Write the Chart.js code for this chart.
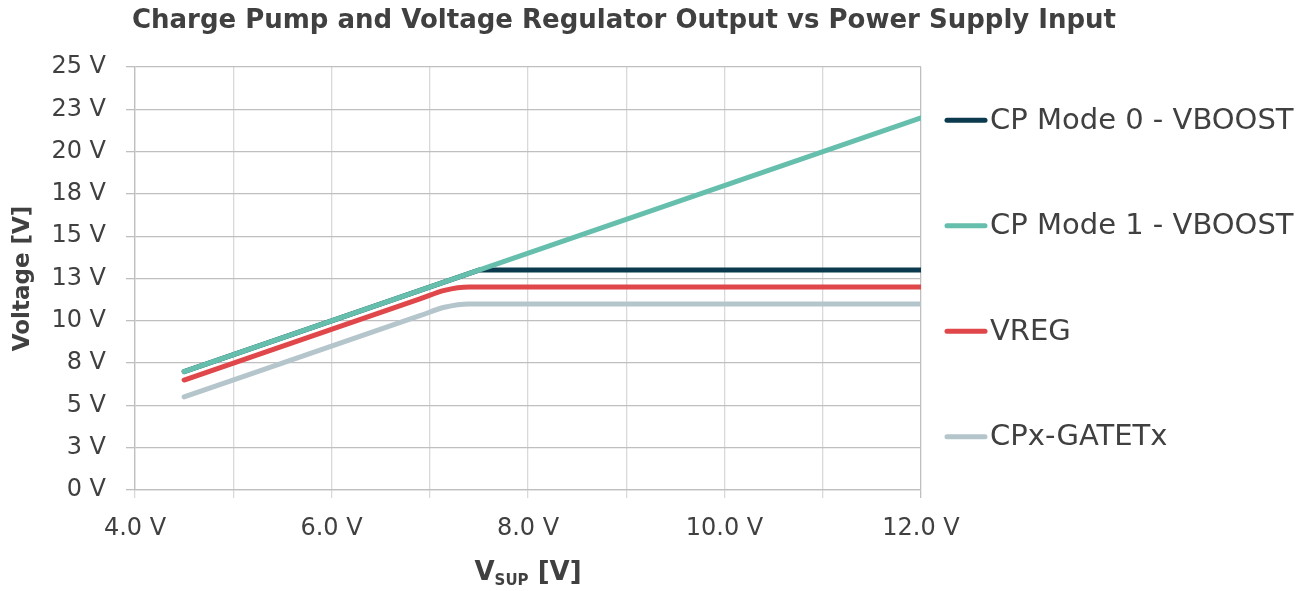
<!DOCTYPE html>
<html>
<head>
<meta charset="utf-8">
<title>Charge Pump and Voltage Regulator Output vs Power Supply Input</title>
<script src="https://cdn.jsdelivr.net/npm/chart.js@4"></script>
<style>
  html, body { margin: 0; padding: 0; background: #fff; }
  #wrap { width: 1307px; height: 591px; }
</style>
</head>
<body>
<div id="wrap"><canvas id="chart" width="1307" height="591"></canvas></div>
<script>
// --- data ---
const chartTitle = 'Charge Pump and Voltage Regulator Output vs Power Supply Input';
const seriesNames = ['CP Mode 0 - VBOOST', 'CP Mode 1 - VBOOST', 'VREG', 'CPx-GATETx'];
const seriesColors = ['#0b3a4e', '#66bfac', '#e0474a', '#b5c5cc'];

const mode0Vsup = [4.5, 7.5, 12.0];
const mode0Out = [7.0, 13.0, 13.0];
const mode1Vsup = [4.5, 12.0];
const mode1Out = [7.0, 22.0];
const vregVsup = [4.5, 6.9, 7.15, 7.4, 12.0];
const vregOut = [6.5, 11.3, 11.8, 12.0, 12.0];
const gateVsup = [4.5, 6.9, 7.15, 7.4, 12.0];
const gateOut = [5.5, 10.3, 10.8, 11.0, 11.0];

const yTickLabels = ['0 V', '3 V', '5 V', '8 V', '10 V', '13 V', '15 V', '18 V', '20 V', '23 V', '25 V'];
const xTickLabels = ['4.0 V', '', '6.0 V', '', '8.0 V', '', '10.0 V', '', '12.0 V'];

const textColor = '#404040';
const fontFamily = "'DejaVu Sans', sans-serif";

function toPoints(xs, ys) {
    return xs.map((x, i) => ({ x: x, y: ys[i] }));
}

function makeSet(idx, xs, ys, order, smooth) {
    return {
        label: seriesNames[idx],
        data: toPoints(xs, ys),
        borderColor: seriesColors[idx],
        backgroundColor: seriesColors[idx],
        borderWidth: 5,
        borderCapStyle: 'round',
        borderJoinStyle: 'round',
        pointRadius: 0,
        fill: false,
        order: order,
        cubicInterpolationMode: smooth ? 'monotone' : 'default',
        tension: 0
    };
}

// main title, centred like the original (a bit left of the page centre)
const topTitle = {
    id: 'topTitle',
    afterDraw(chart) {
        const ctx = chart.ctx;
        ctx.save();
        ctx.font = 'bold 26px ' + fontFamily;
        ctx.fillStyle = textColor;
        ctx.textAlign = 'center';
        ctx.textBaseline = 'middle';
        ctx.fillText(chartTitle, 624, 21);
        ctx.restore();
    }
};

// legend down the right side, spread like the original
const sideLegend = {
    id: 'sideLegend',
    afterDraw(chart) {
        const ctx = chart.ctx;
        const area = chart.chartArea;
        const rowGap = 105.5;
        const firstY = (area.top + area.bottom) / 2 - rowGap * 1.5;
        ctx.save();
        ctx.font = '29px ' + fontFamily;
        ctx.textBaseline = 'middle';
        chart.data.datasets.forEach((ds, i) => {
            const y = firstY + i * rowGap;
            ctx.strokeStyle = ds.borderColor;
            ctx.lineWidth = 5;
            ctx.lineCap = 'round';
            ctx.beginPath();
            ctx.moveTo(area.right + 26, y);
            ctx.lineTo(area.right + 64, y);
            ctx.stroke();
            ctx.fillStyle = textColor;
            ctx.fillText(ds.label, area.right + 69, y + 1);
        });
        ctx.restore();
    }
};

// x axis title with the SUP subscript
const xTitle = {
    id: 'xTitle',
    afterDraw(chart) {
        const ctx = chart.ctx;
        const area = chart.chartArea;
        const big = 'bold 26px ' + fontFamily;
        const small = 'bold 15px ' + fontFamily;
        ctx.save();
        ctx.fillStyle = textColor;
        ctx.textBaseline = 'alphabetic';
        ctx.font = big;
        const wV = ctx.measureText('V').width;
        const wRest = ctx.measureText(' [V]').width;
        ctx.font = small;
        const wSub = ctx.measureText('SUP').width;
        let x = (area.left + area.right) / 2 - (wV + wSub + wRest) / 2;
        const base = 580;
        ctx.font = big;
        ctx.fillText('V', x, base);
        x += wV;
        ctx.font = small;
        ctx.fillText('SUP', x, base + 5);
        x += wSub;
        ctx.font = big;
        ctx.fillText(' [V]', x, base);
        ctx.restore();
    }
};

Chart.defaults.font.family = fontFamily;
Chart.defaults.color = textColor;

new Chart(document.getElementById('chart'), {
    type: 'line',
    data: {
        datasets: [
            makeSet(0, mode0Vsup, mode0Out, 1, false),
            makeSet(1, mode1Vsup, mode1Out, 0, false),
            makeSet(2, vregVsup, vregOut, 2, true),
            makeSet(3, gateVsup, gateOut, 3, true)
        ]
    },
    options: {
        responsive: false,
        animation: false,
        layout: { padding: { top: 67, right: 386, bottom: 0, left: 0 } },
        plugins: {
            legend: { display: false },
            tooltip: { enabled: false },
            title: { display: false }
        },
        scales: {
            x: {
                type: 'linear',
                min: 4,
                max: 12,
                afterFit(scale) { scale.height = 101; },
                ticks: {
                    stepSize: 1,
                    autoSkip: false,
                    maxRotation: 0,
                    padding: 16,
                    color: textColor,
                    font: { size: 24 },
                    callback: (v, i) => xTickLabels[i]
                },
                grid: {
                    color: (c) => c.index === 8 ? '#bfbfbf' : '#d9d9d9',
                    lineWidth: 1.3,
                    tickLength: 8
                },
                border: { color: '#bfbfbf', width: 1.3 }
            },
            y: {
                type: 'linear',
                min: 0,
                max: 25,
                afterFit(scale) { scale.width = 135; },
                ticks: {
                    stepSize: 2.5,
                    autoSkip: false,
                    padding: 20,
                    color: textColor,
                    font: { size: 24 },
                    callback: (v, i) => yTickLabels[i]
                },
                grid: {
                    color: '#bfbfbf',
                    lineWidth: 1.3,
                    tickLength: 9
                },
                border: { color: '#bfbfbf', width: 1.3 },
                title: {
                    display: true,
                    text: 'Voltage [V]',
                    color: textColor,
                    font: { size: 23, weight: 'bold' },
                    padding: { top: 9, bottom: 0 }
                }
            }
        }
    },
    plugins: [topTitle, sideLegend, xTitle]
});
</script>
</body>
</html>
